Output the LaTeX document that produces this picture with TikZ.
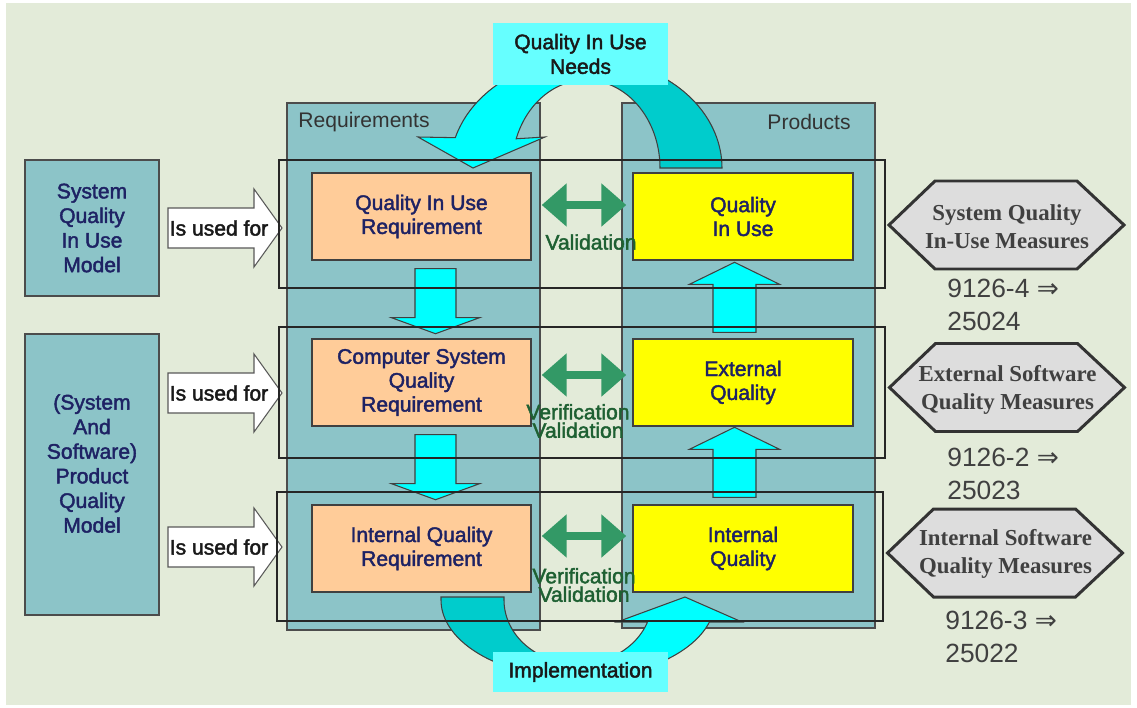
\documentclass[tikz,border=0pt]{standalone}
\usepackage{fontspec}
\setmainfont{Liberation Sans}
\newfontfamily\heavysans[FakeBold=2]{Liberation Sans}
\newfontfamily\hexserif{Liberation Serif}
\newfontfamily\arrowsym{DejaVu Sans}
\usepackage{tikz}
\usetikzlibrary{arrows.meta,calc}

\definecolor{panelbg}{RGB}{227,235,217}
\definecolor{tealcol}{RGB}{140,196,200}
\definecolor{peach}{RGB}{255,204,153}
\definecolor{yellowbox}{RGB}{255,255,0}
\definecolor{vvgreen}{RGB}{51,153,102}
\definecolor{vvtext}{RGB}{30,96,50}
\definecolor{navytext}{RGB}{30,34,100}
\definecolor{brightcyan}{RGB}{0,255,255}
\definecolor{darkcyan}{RGB}{0,204,204}
\definecolor{labelcyan}{RGB}{102,255,255}
\definecolor{hexfill}{RGB}{221,221,221}

\tikzset{
  column/.style={fill=tealcol, draw=gray!60!black, line width=0.6pt},
  coltitle/.style={text=black!80, font=\fontsize{12}{14}\selectfont, inner sep=0pt},
  modelbox/.style={fill=tealcol, draw=black!70, line width=1.1pt, minimum width=26.8mm},
  modeltext/.style={text=navytext, align=center, font=\heavysans\fontsize{12}{14}\selectfont},
  usedarrow/.style={fill=white, draw=gray!70!black, line width=0.6pt},
  usedtext/.style={text=black!90, font=\heavysans\fontsize{12}{14}\selectfont, inner sep=0pt},
  reqbox/.style={fill=peach, draw=black!75, line width=0.8pt, minimum width=43.8mm,
    minimum height=17.4mm, text=navytext, align=center, font=\heavysans\fontsize{12}{13.6}\selectfont},
  prodbox/.style={reqbox, fill=yellowbox, minimum width=44mm},
  cyanblock/.style={fill=brightcyan, draw=black!75, line width=0.6pt},
  tailband/.style={fill=darkcyan, draw=black!75, line width=0.6pt},
  vvarrow/.style={draw=vvgreen, line width=5.1pt,
    {Triangle[width=23.8pt,length=14.2pt]}-{Triangle[width=23.8pt,length=14.2pt]},
    shorten <=2mm, shorten >=1.2mm},
  vvlabel/.style={text=vvtext, align=center, font=\heavysans\fontsize{12}{10.5}\selectfont, inner sep=0pt},
  rowframe/.style={draw=black!85, line width=1.2pt},
  cyanlabel/.style={fill=labelcyan, text=black!90, align=center,
    font=\heavysans\fontsize{12}{14}\selectfont, minimum width=35mm},
  hexagon/.style={fill=hexfill, draw=black!80, line width=1.7pt},
  hextext/.style={text=black!75, align=center, font=\hexserif\bfseries\fontsize{13}{15.9}\selectfont, inner sep=0pt},
  codetext/.style={text=black!75, align=left, anchor=west, font=\fontsize{15}{18.7}\selectfont, inner sep=0pt}
}

\newcommand{\usedfor}[2]{%
  \filldraw[usedarrow] (168,#2-20) -- (254,#2-20) -- (254,#2-39) -- (282,#2)
    -- (254,#2+39) -- (254,#2+20) -- (168,#2+20) -- cycle;
  \node[usedtext] (#1) at (219,#2) {Is used for};}
\newcommand{\cyandown}[1]{\filldraw[cyanblock] #1 ++(-20.5,0) -- ++(41,0) -- ++(0,49)
  -- ++(23.5,0) -- ++(-44,16) -- ++(-44,-16) -- ++(23.5,0) -- cycle;}
\newcommand{\cyanup}[1]{\filldraw[cyanblock] #1 ++(-21.5,0) -- ++(0,-48) -- ++(-23.5,0)
  -- ++(45,-22) -- ++(45,22) -- ++(-23.5,0) -- ++(0,48) -- cycle;}
\newcommand{\measurehex}[2]{\filldraw[hexagon] (#1-118,#2) -- (#1-72,#2-44) -- (#1+70,#2-44)
  -- (#1+117,#2) -- (#1+70,#2+44) -- (#1-72,#2+44) -- cycle;}

\begin{document}
\begin{tikzpicture}[x=0.2mm,y=-0.2mm]
\useasboundingbox (0,0) rectangle (1137,708);
\fill[white] (0,0) rectangle (1137,708);
\fill[panelbg] (6,3) rectangle (1131,705);

% the two columns
\filldraw[column] (287,103) rectangle (540,630);
\filldraw[column] (622,103) rectangle (875,628);
\node[coltitle, anchor=west] (reqtitle) at (298,122) {Requirements};
\node[coltitle, anchor=east] (prodtitle) at (851,122) {Products};

% quality models
\node[modelbox, minimum height=27.2mm] (sqm) at (92,228) {};
\node[modeltext] (sqmtext) at (92,228) {System\\Quality\\In Use\\Model};
\node[modelbox, minimum height=56.2mm] (pqm) at (92,474.5) {};
\node[modeltext] (pqmtext) at (92,463.5) {(System\\And\\Software)\\Product\\Quality\\Model};

\usedfor{useda}{228}
\usedfor{usedb}{393}
\usedfor{usedc}{547}

% requirements and products
\node[reqbox] (qiur) at (421.5,216.5) {Quality In Use\\Requirement};
\node[reqbox] (csqr) at (421.5,382.5) {Computer System\\Quality\\Requirement};
\node[reqbox] (iqr) at (421.5,548.5) {Internal Quality\\Requirement};
\node[prodbox] (qiu) at (743,216.5) {Quality\\In Use};
\node[prodbox] (eq) at (743,382.5) {External\\Quality};
\node[prodbox] (iq) at (743,548.5) {Internal\\Quality};

\cyandown{($(qiur.south)+(14,8)$)}
\cyandown{($(csqr.south)+(14,8)$)}
\cyanup{($(eq.north)+(-8.5,-6)$)}
\cyanup{($(iq.north)+(-8.5,-7)$)}

% needs arrow
\filldraw[tailband] plot[domain=0:-90,samples=40] ({586+136*cos(\x)},{168+110*sin(\x)})
  -- plot[domain=-90:0,samples=40] ({586+74*cos(\x)},{168+88*sin(\x)}) -- cycle;
\filldraw[cyanblock] plot[domain=-90:-164,samples=40] ({586+136*cos(\x)},{168+110*sin(\x)})
  -- (418,137) -- (473,168) -- (545,137)
  -- plot[domain=-160.6:-90,samples=40] ({586+74*cos(\x)},{168+88*sin(\x)}) -- cycle;

% implementation arrow
\filldraw[tailband] (441,597) -- plot[domain=180:90,samples=40] ({578+137*cos(\x)},{600+78*sin(\x)})
  -- plot[domain=90:180,samples=40] ({578+74*cos(\x)},{600+64*sin(\x)}) -- (504,597) -- cycle;
\filldraw[cyanblock] plot[domain=90:16.4,samples=40] ({578+137*cos(\x)},{600+78*sin(\x)})
  -- (742,622) -- (685,597) -- (617,622)
  -- plot[domain=20.1:90,samples=40] ({578+74*cos(\x)},{600+64*sin(\x)}) -- cycle;

% verification and validation
\draw[vvarrow] ([yshift=2.3mm]qiur.east) -- ([yshift=2.3mm]qiu.west);
\draw[vvarrow] ([yshift=1.5mm]csqr.east) -- ([yshift=1.5mm]eq.west);
\draw[vvarrow] ([yshift=2.5mm]iqr.east) -- ([yshift=2.5mm]iq.west);
\node[vvlabel] (vala) at (591,242) {Validation};
\node[vvlabel] (valb) at (578,421) {Verification\\Validation};
\node[vvlabel] (valc) at (584,585) {Verification\\Validation};

% row frames
\draw[rowframe] (279,160) rectangle (885,288);
\draw[rowframe] (279,327) rectangle (885,458);
\draw[rowframe] (277,492) rectangle (883,621);

\node[cyanlabel, minimum height=12.4mm] (needs) at (580.5,54) {Quality In Use\\Needs};
\node[cyanlabel, minimum height=8mm] (impl) at (580.5,672) {Implementation};

% measures
\measurehex{1007}{225}
\measurehex{1007.5}{387.5}
\measurehex{1005.5}{553}
\node[hextext] (mqiu) at (1007,227) {System Quality\\In-Use Measures};
\node[hextext] (mext) at (1007.5,390) {External Software\\Quality Measures};
\node[hextext] (mint) at (1005.5,554) {Internal Software\\Quality Measures};
\node[codetext] (codea) at (947,304.5) {9126-4 {\arrowsym ⇒}\\25024};
\node[codetext] (codeb) at (947,474) {9126-2 {\arrowsym ⇒}\\25023};
\node[codetext] (codec) at (945,637) {9126-3 {\arrowsym ⇒}\\25022};
\end{tikzpicture}
\end{document}
